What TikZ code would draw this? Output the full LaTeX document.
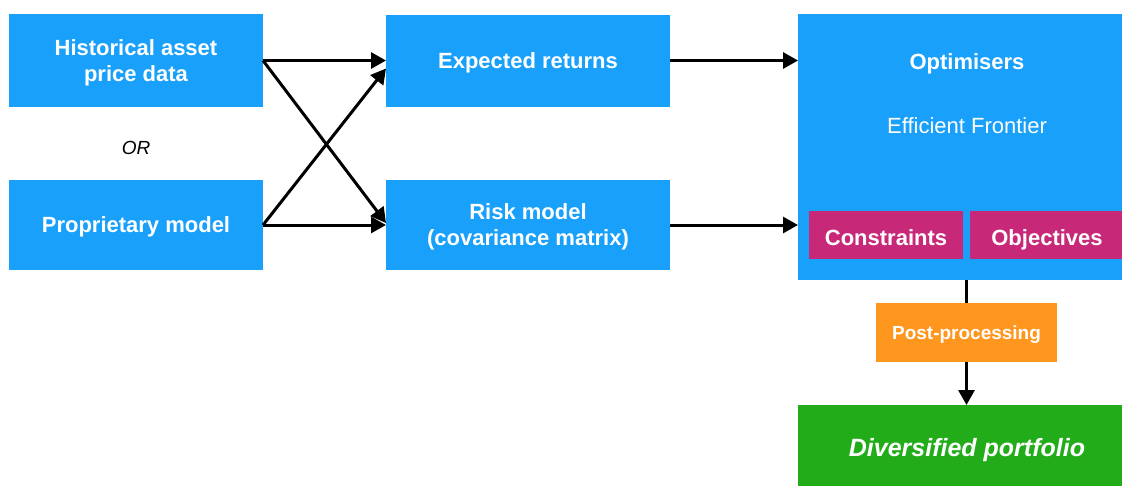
\documentclass[tikz,border=0pt]{standalone}
\usepackage{fontspec}
\setmainfont{Liberation Sans}
\usetikzlibrary{positioning,arrows.meta,calc}
\definecolor{pBlue}{RGB}{24,160,250}
\definecolor{pMag}{RGB}{200,40,120}
\definecolor{pOrange}{RGB}{255,150,30}
\definecolor{pGreen}{RGB}{34,172,26}
\tikzset{
  blk/.style={rectangle, fill=pBlue, text=white, align=center, inner sep=2pt,
              outer sep=0pt, text depth=-2pt, font=\fontsize{22}{26}\selectfont\bfseries},
  mag/.style={blk, fill=pMag, text height=20pt, text depth=0pt},
  orng/.style={blk, fill=pOrange, font=\fontsize{19}{23}\selectfont\bfseries},
  grn/.style={blk, fill=pGreen, font=\fontsize{25}{30}\selectfont\bfseries\itshape},
  hdr/.style={text=white, font=\fontsize{22}{26}\selectfont\bfseries},
  sub/.style={text=white, font=\fontsize{22}{26}\selectfont},
  ortext/.style={font=\fontsize{19}{23}\selectfont\itshape},
  flow/.style={-{Triangle[length=15pt,width=16pt]}, line width=3pt, draw=black},
  link/.style={line width=3pt, draw=black},
}
\begin{document}
\begin{tikzpicture}[x=1pt, y=-1pt]
  \path[use as bounding box, clip] (0,0) rectangle (1122,485);
  % data sources
  \node[blk, minimum width=254pt, minimum height=93pt, anchor=north west] (hist) at (9,14)
       {Historical asset\\price data};
  \node[blk, minimum width=254pt, minimum height=90pt, below=73pt of hist] (prop) {Proprietary model};
  \node[ortext] (or) at ([yshift=-41pt]hist.south) {OR};
  % estimates
  \node[blk, minimum width=284pt, minimum height=92pt, right=123pt of hist] (ret) {Expected returns};
  \node[blk, minimum width=284pt, minimum height=90pt, right=123pt of prop] (risk)
       {Risk model\\(covariance matrix)};
  % optimiser block
  \node[blk, minimum width=338pt, minimum height=266pt, anchor=north west] (opt) at (798,14) {};
  \node[hdr] (optT) at ([yshift=-50pt]opt.north) {Optimisers};
  \node[sub] (optS) at ([yshift=-112pt]opt.north) {Efficient Frontier};
  \node[mag, minimum width=154pt, minimum height=48pt, anchor=north west] (cons) at (809,211) {Constraints};
  \node[mag, minimum width=154pt, minimum height=48pt, right=7pt of cons] (obj) {Objectives};
  % output
  \node[orng, minimum width=181pt, minimum height=59pt, anchor=north west] (post) at (876,303) {Post-processing};
  \node[grn, minimum width=338pt, minimum height=84pt, anchor=north west] (port) at (798,405)
       {Diversified portfolio};
  % connectors
  \draw[flow] (hist.east) -- (ret.west);
  \draw[flow] (hist.east) -- ([yshift=2pt]risk.west);
  \draw[flow] (prop.east) -- ([yshift=-8pt]ret.west);
  \draw[flow] (prop.east) -- (risk.west);
  \draw[flow] (ret.east) -- (ret.east -| opt.west);
  \draw[flow] (risk.east) -- (risk.east -| opt.west);
  \draw[link] (post.north |- opt.south) -- (post.north);
  \draw[flow] (post.south) -- (post.south |- port.north);
\end{tikzpicture}
\end{document}
